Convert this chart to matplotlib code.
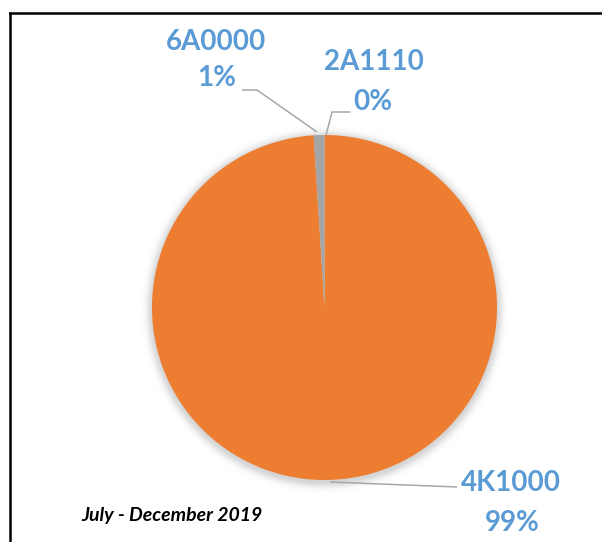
import numpy as np
import matplotlib
matplotlib.use("Agg")
import matplotlib.pyplot as plt
from matplotlib.lines import Line2D

# Data
codes = ["2A1110", "4K1000", "6A0000"]
shares = [0, 99, 1]
colors = ["#4472C4", "#ED7D31", "#A5A5A5"]
period = "July - December 2019"

W, H = 602, 542
fig = plt.figure(figsize=(W / 100, H / 100), dpi=100)
ax = fig.add_axes([0, 0, 1, 1])
ax.set_xlim(0, W)
ax.set_ylim(0, H)
ax.set_aspect("equal")
ax.axis("off")

def Y(y):
    # convert top-down pixel row into axis y
    return H - y

cx, cy, R = 324.5, Y(307.5), 172.5

# soft shadow behind the pie
xs = np.arange(W) + 0.5
ys = np.arange(H) + 0.5
XX, YY = np.meshgrid(xs, ys)
d = np.hypot(XX - cx, YY - (cy - 2))
alpha = 0.30 * np.exp(-np.clip(d - R + 1, 0, None) ** 2 / (2 * 4.5 ** 2))
shadow = np.zeros((H, W, 4))
shadow[..., :3] = 0.45
shadow[..., 3] = alpha
ax.imshow(shadow, extent=(0, W, 0, H), origin="lower", zorder=0, interpolation="bilinear")

wedges, _ = ax.pie(shares, colors=colors, startangle=90, counterclock=False,
                   center=(cx, cy), radius=R, frame=True,
                   wedgeprops=dict(linewidth=0))
for w in wedges:
    w.set_zorder(2)
ax.set_xlim(0, W)
ax.set_ylim(0, H)
ax.axis("off")

label_color = "#5B9BD5"
lead_color = "#A6A6A6"
fam = ["Lato", "DejaVu Sans"]
pct = [f"{v:.0f}%" for v in shares]

# label blocks: (name center, pct center) in pixel rows
label_pos = {
    "6A0000": ((216, 42), (217, 78)),
    "2A1110": ((374, 62), (373, 102)),
    "4K1000": ((511, 483), (512, 523)),
}
leaders = {
    "6A0000": [(242, 90), (257, 90), (317, 132)],
    "2A1110": [(350, 112), (332, 112), (326, 135)],
    "4K1000": [(457, 487), (330, 482)],
}
for code, p in zip(codes, pct):
    (nx, ny), (px, py) = label_pos[code]
    ax.text(nx, Y(ny), code, color=label_color, fontsize=20, fontweight="bold",
            family=fam, ha="center", va="center", zorder=4)
    ax.text(px, Y(py), p, color=label_color, fontsize=20, fontweight="bold",
            family=fam, ha="center", va="center", zorder=4)
    pts = leaders[code]
    ax.plot([q[0] for q in pts], [Y(q[1]) for q in pts], color=lead_color,
            lw=1.1, zorder=3, solid_capstyle="butt")

ax.text(172, Y(516), period, fontsize=14, fontweight="bold", fontstyle="italic",
        family=fam, color="black", ha="center", va="center", zorder=4)

# frame lines at the top and left
fig.add_artist(Line2D([9.5 / W, 1.0], [Y(12.5) / H, Y(12.5) / H], color="black",
                      lw=1.8, transform=fig.transFigure))
fig.add_artist(Line2D([9.5 / W, 9.5 / W], [Y(12.5) / H, 0], color="black",
                      lw=1.8, transform=fig.transFigure))

fig.savefig("out.png", dpi=100, facecolor="white")
